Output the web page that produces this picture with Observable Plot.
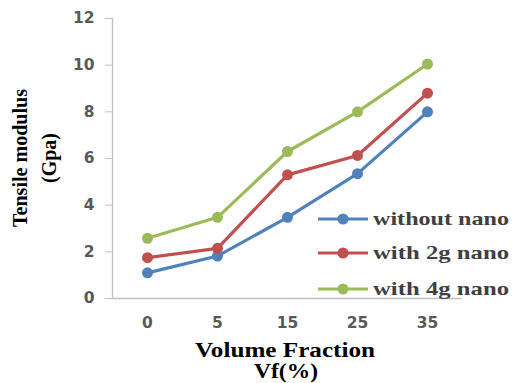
<!DOCTYPE html>
<html>
<head>
<meta charset="utf-8">
<script src="https://cdn.jsdelivr.net/npm/d3@7"></script>
<script src="https://cdn.jsdelivr.net/npm/@observablehq/plot@0.6"></script>
<style>
  html, body { margin: 0; padding: 0; background: #fff; }
  #chart { width: 513px; height: 383px; }
</style>
</head>
<body>
<div id="chart"></div>
<script>
const categories = ["0", "5", "15", "25", "35"];
const seriesNames = ["without nano", "with 2g nano", "with 4g nano"];
const withoutNano = [1.1, 1.82, 3.48, 5.35, 8.0];
const with2gNano = [1.75, 2.15, 5.3, 6.13, 8.8];
const with4gNano = [2.58, 3.48, 6.3, 8.0, 10.05];
const yTicks = [0, 2, 4, 6, 8, 10, 12];
const colors = ["#4f81bd", "#c0504d", "#9bbb59"];

const seriesValues = [withoutNano, with2gNano, with4gNano];
const data = [];
seriesNames.forEach((s, i) => categories.forEach((c, j) => data.push({series: s, x: c, y: seriesValues[i][j]})));

const sans = "'DejaVu Sans', Verdana, sans-serif";
const serif = "'Liberation Serif', 'Times New Roman', serif";

const plot = Plot.plot({
  width: 513,
  height: 383,
  marginLeft: 112,
  marginRight: 51,
  marginTop: 18,
  marginBottom: 85,
  style: {background: "#fff", overflow: "visible"},
  x: {type: "point", domain: categories, padding: 0.5, label: null},
  y: {domain: [0, 12], label: null},
  color: {domain: seriesNames, range: colors},
  marks: [
    Plot.ruleY([0], {stroke: "#bfbfbf", strokeWidth: 1.3}),
    Plot.ruleX([categories[0]], {dx: -35, stroke: "#bfbfbf", strokeWidth: 1.3}),
    Plot.axisY(yTicks, {tickSize: 7, tickPadding: 11, stroke: "#bfbfbf", fill: "#595959", fontSize: 15.5, fontWeight: "bold", fontFamily: sans}),
    Plot.axisX({tickSize: 0, tickPadding: 18, fill: "#595959", fontSize: 15.5, fontWeight: "bold", fontFamily: sans}),
    Plot.line(data, {x: "x", y: "y", stroke: "series", z: "series", strokeWidth: 3.2}),
    Plot.dot(data, {x: "x", y: "y", fill: "series", r: 5.5})
  ]
});
document.getElementById("chart").appendChild(plot);

const svg = d3.select(plot);
// Axis titles
const yt = svg.append("g").attr("transform", "translate(0,158) rotate(-90)")
  .attr("font-family", serif).attr("font-weight", "bold").attr("font-size", 20).attr("fill", "#000").attr("text-anchor", "middle");
yt.append("text").attr("x", 0).attr("y", 27).attr("textLength", 138).attr("lengthAdjust", "spacingAndGlyphs").text("Tensile modulus");
yt.append("text").attr("x", 0).attr("y", 56).text("(Gpa)");

const xt = svg.append("g").attr("font-family", serif).attr("font-weight", "bold").attr("font-size", 20).attr("fill", "#000").attr("text-anchor", "middle");
xt.append("text").attr("x", 285).attr("y", 357).attr("textLength", 180).attr("lengthAdjust", "spacingAndGlyphs").text("Volume Fraction");
xt.append("text").attr("x", 286).attr("y", 378).attr("textLength", 64).attr("lengthAdjust", "spacingAndGlyphs").text("Vf(%)");

// Legend
const lg = svg.append("g").attr("text-anchor", "start");
const legY = [219, 253, 289];
seriesNames.forEach((s, i) => {
  lg.append("line").attr("x1", 318).attr("x2", 368).attr("y1", legY[i]).attr("y2", legY[i]).attr("stroke", colors[i]).attr("stroke-width", 3.2);
  lg.append("circle").attr("cx", 343).attr("cy", legY[i]).attr("r", 5.5).attr("fill", colors[i]);
  lg.append("text").attr("x", 373).attr("y", legY[i] + 6).attr("font-family", serif).attr("font-weight", "bold").attr("font-size", 19)
    .attr("fill", "#404040").attr("textLength", 136).attr("lengthAdjust", "spacingAndGlyphs").text(s);
});
</script>
</body>
</html>
